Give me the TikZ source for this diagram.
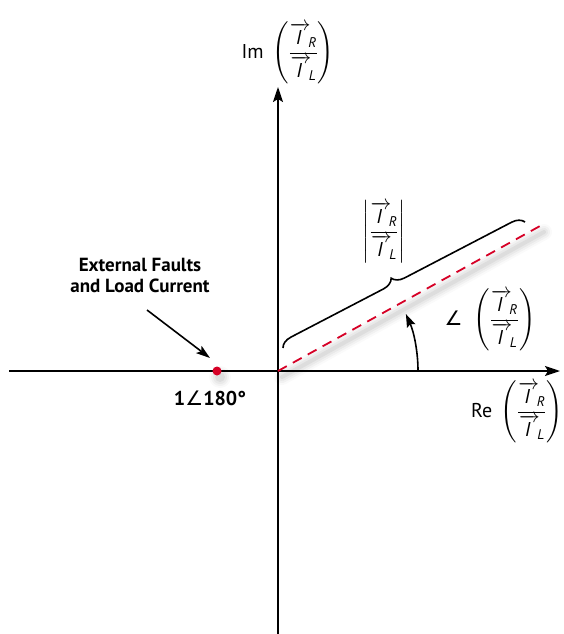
\documentclass[tikz,border=0pt]{standalone}
\usepackage{amsmath}
\usepackage{fontspec}
\setmainfont{PT Sans}
\newfontfamily\symf{DejaVu Sans}
\DeclareMathSizes{20}{20}{14}{10}
\usetikzlibrary{arrows.meta,decorations.pathreplacing}
\definecolor{dashred}{RGB}{214,0,38}
\newcommand{\vecI}[1]{\overrightarrow{\textit{I}\,}_{\!\textit{#1}}}
\newcommand{\ratio}{\left(\dfrac{\vecI{R}}{\vecI{L}}\right)}
\newcommand{\angsym}{{\symf\itshape ∠}}
\begin{document}
\begin{tikzpicture}[x=1pt,y=-1pt,
  axis/.style={line width=1.8pt,-{Stealth[length=15pt,width=10pt,inset=3pt]}},
  lbl/.style={font=\fontsize{20}{24}\selectfont,inner sep=0pt},
  note/.style={font=\bfseries\fontsize{19}{21}\selectfont,align=center,inner sep=0pt},
  shadowline/.style={line cap=round,draw=black}]
\useasboundingbox (0,0) rectangle (563,634);
\coordinate (O) at (278,371);
\coordinate (xl) at (9,371);
\coordinate (xr) at (560,371);
\coordinate (yb) at (278,634);
\coordinate (yt) at (278,87);
\coordinate (P) at (540,226);
\coordinate (b1) at (283,348);
\coordinate (b2) at (525,222);
\coordinate (D) at (217,371);
% soft shadow
\foreach \w/\o in {16/0.02,12/0.03,8/0.04,4/0.05}{
  \draw[shadowline,line width=\w pt,opacity=\o] ([shift={(4,6)}]O) -- ([shift={(4,6)}]P);
  \fill[opacity=\o] ([shift={(3,6)}]D) circle[radius=\w/2+3];
}
\draw[axis] (xl) -- (xr);
\draw[axis] (yb) -- (yt);
\draw[dashred,line width=1.8pt,dash pattern=on 10pt off 7pt] (O) -- (P);
\fill[dashred] (D) circle[radius=4.5];
\draw[line width=1.6pt,decorate,decoration={brace,amplitude=12pt,aspect=0.47}] (b1) -- (b2);
\draw[line width=1.6pt,-{Stealth[length=13pt,width=9pt,inset=2pt]}] (O) ++(0:140) arc[start angle=0,end angle=-24,radius=140];
\node[lbl] (im) at (288,53) {Im\, $\ratio$};
\node[lbl] (re) at (517,412) {Re\, $\ratio$};
\node[lbl] (mag) at (384,232) {$\left|\dfrac{\vecI{R}}{\vecI{L}}\right|$};
\node[lbl] (ang) at (490,320) {\angsym\; $\ratio$};
\node[note] (ext) at (140,275) {External Faults\\and Load Current};
\node[font=\bfseries\fontsize{20}{24}\selectfont,inner sep=0pt] (one) at (210,398) {1{\symf\itshape\mdseries ∠}180°};
\coordinate (as) at (147,310);
\coordinate (ae) at (210,358);
\draw[line width=1.6pt,-{Stealth[length=14pt,width=9pt,inset=3pt]}] (as) -- (ae);
\end{tikzpicture}
\end{document}
